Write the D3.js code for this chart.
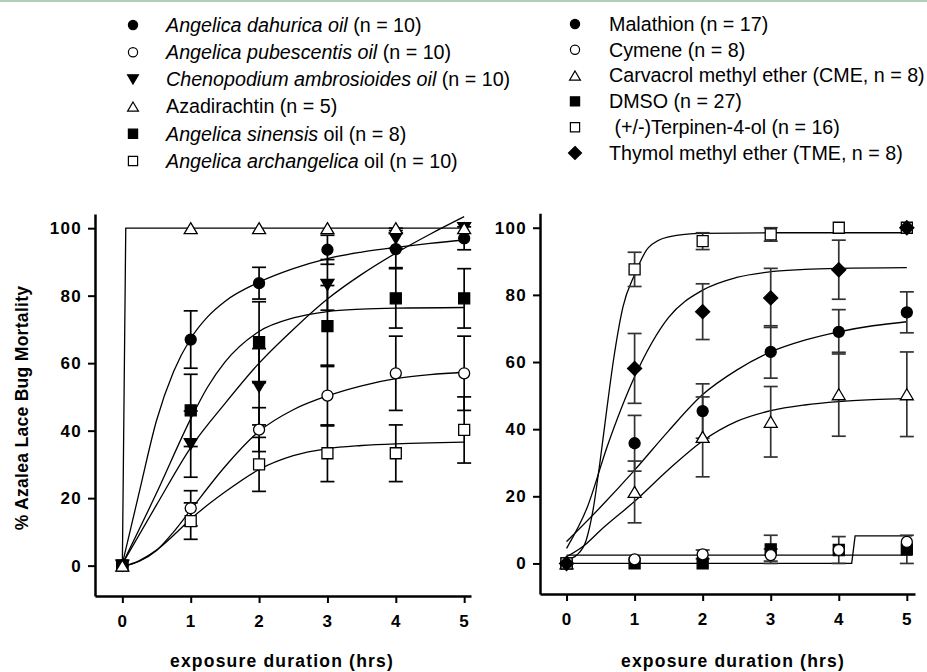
<!DOCTYPE html>
<html lang="en">
<head>
<meta charset="UTF-8">
<title>Azalea lace bug mortality</title>
<script src="https://d3js.org/d3.v7.min.js"></script>
<style>
    body { margin: 0; background: #fff; }
    svg { display: block; font-family: "Liberation Sans", Arial, sans-serif; }
    .axis path, .axis line { stroke: #000; }
    .axis path { stroke-width: 2.5px; }
    .axis line { stroke-width: 2px; }
    .axis text { font-size: 17px; font-weight: bold; letter-spacing: 1.3px; fill: #000; font-family: "Liberation Sans", Arial, sans-serif; }
    .legend text { font-size: 19.7px; fill: #000; white-space: pre; }
    .fit { fill: none; stroke: #000; stroke-width: 1.3px; }
    .title { font-size: 17.5px; font-weight: bold; letter-spacing: 1.2px; }
</style>
</head>
<body>
<script>
    const times = [0, 1, 2, 3, 4, 5];
    const yTicks = [0, 20, 40, 60, 80, 100];

    // left panel: plant oils
    const dahuricaMean = [0, 67, 83.7, 93.6, 93.8, 97];
    const dahuricaErr = [0, 8.5, 4.7, 4.3, 5.5, 3.4];
    const pubescentisMean = [0, 17, 40.3, 50.4, 57, 57];
    const pubescentisErr = [0, 5.2, 6.5, 9, 11, 11];
    const chenopodiumMean = [0, 36, 53, 83.2, 97, 100];
    const chenopodiumErr = [0, 9.8, 11.3, 7.5, 3, 0];
    const azadirachtinMean = [0, 100, 100, 100, 100, 100];
    const azadirachtinErr = [0, 0, 0, 0, 0, 0];
    const sinensisMean = [0, 46, 66.2, 71, 79.2, 79.2];
    const sinensisErr = [0, 10.7, 12, 12, 8.8, 8.8];
    const archangelicaMean = [0, 13.2, 30, 33.3, 33.3, 40.2];
    const archangelicaErr = [0, 5.4, 8, 8.4, 8.4, 9.8];

    // fitted curves, [hours, %]
    const fitDahurica = [[0, 0.5], [0.25, 22], [0.5, 43], [0.75, 57.5], [1, 67.3], [1.25, 73.8], [1.5, 78.3], [2, 84], [2.5, 88], [3, 91], [3.5, 92.9], [4, 94.3], [4.5, 95.5], [5, 96.5]];
    const fitPubescentis = [[0, -0.3], [0.25, 1.3], [0.5, 4.5], [0.75, 10], [1, 16.5], [1.5, 29.3], [2, 39.8], [2.5, 46.2], [3, 50.3], [3.5, 53.3], [4, 55.4], [4.5, 56.6], [5, 57.3]];
    const fitChenopodium = [[0, 0.5], [0.5, 18], [1, 35], [1.5, 48], [2, 60], [2.5, 70], [3, 79], [3.5, 86.3], [4, 92.6], [4.5, 98.2], [5, 103.4]];
    const fitAzadirachtin = [[0, 0], [0.05, 100], [5.05, 100]];
    const fitSinensis = [[0, 0.5], [0.5, 21.5], [1, 43.5], [1.25, 53], [1.5, 60.3], [2, 69.4], [2.5, 73.4], [3, 75.3], [3.5, 76], [4, 76.3], [5, 76.5]];
    const fitArchangelica = [[0, -0.3], [0.25, 1.5], [0.5, 4.6], [0.75, 9], [1, 13.8], [1.5, 21.8], [2, 28.5], [2.5, 32.6], [3, 34.7], [3.5, 35.6], [4, 36.1], [4.5, 36.4], [5, 36.6]];

    // right panel: compounds
    const malathionMean = [0, 35.8, 45.4, 63, 69, 74.8];
    const malathionErr = [0, 8.3, 8.1, 7.8, 6.6, 6.1];
    const cymeneMean = [0, 1.2, 2.7, 2.5, 4, 6.4];
    const cymeneErr = [0, 0, 1.3, 1.8, 0, 0];
    const cmeMean = [0, 21.3, 37.7, 42.2, 50.4, 50.4];
    const cmeErr = [0, 9.2, 11.9, 10.5, 12.5, 12.6];
    const dmsoMean = [0, 0, 0, 4.2, 4, 4.2];
    const dmsoErr = [0, 0, 0, 4.2, 4, 4.2];
    const terpinenMean = [0, 87.6, 96, 98, 100, 100];
    const terpinenErr = [0, 5.1, 2.5, 2, 0, 0];
    const tmeMean = [0, 58.1, 75, 79.1, 87.5, 100];
    const tmeErr = [0, 10.4, 8.3, 8.8, 8.8, 0];

    const fitMalathion = [[0, 6.5], [0.5, 16.8], [1, 27.8], [1.5, 39.5], [2, 50.3], [2.5, 57.6], [3, 63], [3.5, 66.5], [4, 69], [4.5, 70.8], [5, 72]];
    const fitCymene = [[0, 2.5], [5.08, 2.5]];
    const fitCme = [[0, 2], [0.25, 5.2], [0.5, 9.9], [1, 18.5], [1.5, 28], [2, 36.5], [2.5, 42.3], [3, 45.5], [3.5, 47.2], [4, 48.2], [4.5, 48.8], [5, 49.2]];
    const fitDmso = [[0, 0], [4.19, 0], [4.24, 8.2], [5.08, 8.2]];
    const fitTerpinen = [[0, 1], [0.15, 2.5], [0.29, 7], [0.39, 16], [0.49, 30], [0.59, 45.7], [0.69, 60.6], [0.83, 76.5], [1, 86], [1.2, 94], [1.5, 97.3], [2, 98.3], [3, 98.5], [5.05, 98.5]];
    const fitTme = [[0, 4.5], [0.3, 16.5], [0.6, 35], [1, 55.6], [1.5, 73.3], [2, 81.4], [2.5, 85.2], [3, 86.9], [3.5, 87.6], [4, 87.9], [5, 88.1]];

    const leftSeries = [
        { mean: archangelicaMean, err: archangelicaErr, fit: fitArchangelica, shape: 'square', filled: false },
        { mean: sinensisMean, err: sinensisErr, fit: fitSinensis, shape: 'square', filled: true },
        { mean: pubescentisMean, err: pubescentisErr, fit: fitPubescentis, shape: 'circle', filled: false },
        { mean: dahuricaMean, err: dahuricaErr, fit: fitDahurica, shape: 'circle', filled: true },
        { mean: chenopodiumMean, err: chenopodiumErr, fit: fitChenopodium, shape: 'triDown', filled: true },
        { mean: azadirachtinMean, err: azadirachtinErr, fit: fitAzadirachtin, shape: 'triUp', filled: false, linear: true }
    ];
    const rightSeries = [
        { mean: dmsoMean, err: dmsoErr, fit: fitDmso, shape: 'square', filled: true, linear: true },
        { mean: cymeneMean, err: cymeneErr, fit: fitCymene, shape: 'circle', filled: false, linear: true },
        { mean: cmeMean, err: cmeErr, fit: fitCme, shape: 'triUp', filled: false },
        { mean: malathionMean, err: malathionErr, fit: fitMalathion, shape: 'circle', filled: true },
        { mean: terpinenMean, err: terpinenErr, fit: fitTerpinen, shape: 'square', filled: false },
        { mean: tmeMean, err: tmeErr, fit: fitTme, shape: 'diamond', filled: true }
    ];

    const leftLegend = [
        { shape: 'circle', filled: true, parts: [['Angelica dahurica oil', true], [' (n = 10)', false]] },
        { shape: 'circle', filled: false, parts: [['Angelica pubescentis oil', true], [' (n = 10)', false]] },
        { shape: 'triDown', filled: true, parts: [['Chenopodium ambrosioides oil', true], [' (n = 10)', false]] },
        { shape: 'triUp', filled: false, parts: [['Azadirachtin (n = 5)', false]] },
        { shape: 'square', filled: true, parts: [['Angelica sinensis', true], [' oil (n = 8)', false]] },
        { shape: 'square', filled: false, parts: [['Angelica archangelica', true], [' oil (n = 10)', false]] }
    ];
    const rightLegend = [
        { shape: 'circle', filled: true, parts: [['Malathion (n = 17)', false]] },
        { shape: 'circle', filled: false, parts: [['Cymene (n = 8)', false]] },
        { shape: 'triUp', filled: false, parts: [['Carvacrol methyl ether (CME, n = 8)', false]] },
        { shape: 'square', filled: true, parts: [['DMSO (n = 27)', false]] },
        { shape: 'square', filled: false, parts: [[' (+/-)Terpinen-4-ol (n = 16)', false]] },
        { shape: 'diamond', filled: true, parts: [['Thymol methyl ether (TME, n = 8)', false]] }
    ];

    const width = 927, height = 672;
    const svg = d3.select('body').append('svg')
        .attr('width', width)
        .attr('height', height);

    // thin tinted rule along the top edge
    svg.append('rect').attr('x', 0).attr('y', 0).attr('width', width).attr('height', 2).attr('fill', '#b3cdbd');

    function markerPath(shape, s) {
        if (shape === 'circle') return d3.symbol(d3.symbolCircle, Math.PI * s * s)();
        if (shape === 'square') return `M${-s},${-s}H${s}V${s}H${-s}Z`;
        if (shape === 'triUp') return `M0,${-s}L${s * 1.18},${s}L${-s * 1.18},${s}Z`;
        if (shape === 'triDown') return `M0,${s}L${s * 1.18},${-s}L${-s * 1.18},${-s}Z`;
        if (shape === 'diamond') return `M0,${-s * 1.3}L${s * 1.3},0L0,${s * 1.3}L${-s * 1.3},0Z`;
    }

    function drawPanel(series, x, y, errColor) {
        const g = svg.append('g');

        g.append('g').attr('class', 'axis')
            .attr('transform', `translate(0,${y.range()[0]})`)
            .call(d3.axisBottom(x).tickValues(times).tickFormat(d3.format('d')).tickSize(7).tickSizeOuter(0).tickPadding(12));
        g.append('g').attr('class', 'axis')
            .attr('transform', `translate(${x.range()[0]},0)`)
            .call(d3.axisLeft(y).tickValues(yTicks).tickFormat(d3.format('d')).tickSize(7).tickSizeOuter(0).tickPadding(6));

        const line = d3.line().x(d => x(d[0])).y(d => y(d[1]));
        series.forEach(s => {
            g.append('path').attr('class', 'fit')
                .attr('d', line.curve(s.linear ? d3.curveLinear : d3.curveMonotoneX)(s.fit));
        });

        series.forEach(s => {
            const pts = times.map((t, i) => ({ t: t, m: s.mean[i], e: s.err[i] })).filter(p => p.e > 0);
            const eg = g.append('g').attr('stroke', errColor).attr('stroke-width', 1.7).attr('fill', 'none');
            pts.forEach(p => {
                eg.append('line').attr('x1', x(p.t)).attr('x2', x(p.t)).attr('y1', y(p.m - p.e)).attr('y2', y(p.m + p.e));
                [p.m - p.e, p.m + p.e].forEach(v => {
                    eg.append('line').attr('x1', x(p.t) - 7).attr('x2', x(p.t) + 7).attr('y1', y(v)).attr('y2', y(v));
                });
            });
        });

        series.forEach(s => {
            g.append('g').selectAll('path')
                .data(times.map((t, i) => [t, s.mean[i]]))
                .join('path')
                .attr('transform', d => `translate(${x(d[0])},${y(d[1])})`)
                .attr('d', markerPath(s.shape, s.shape === 'diamond' ? 5.4 : 5.5))
                .attr('fill', s.filled ? '#000' : '#fff')
                .attr('stroke', '#000')
                .attr('stroke-width', 1.3);
        });
    }

    const xLeft = d3.scaleLinear().domain([-0.4, 5.1]).range([95, 471]);
    const yLeft = d3.scaleLinear().domain([-9, 104.2]).range([596, 214]);
    const xRight = d3.scaleLinear().domain([-0.39, 5.12]).range([540, 915]);
    const yRight = d3.scaleLinear().domain([-9.1, 104.3]).range([594, 213.3]);

    drawPanel(leftSeries, xLeft, yLeft, '#000');
    drawPanel(rightSeries, xRight, yRight, '#333');

    svg.append('text').attr('class', 'title')
        .attr('x', 282).attr('y', 667).attr('text-anchor', 'middle')
        .text('exposure duration (hrs)');
    svg.append('text').attr('class', 'title')
        .attr('x', 733).attr('y', 667).attr('text-anchor', 'middle')
        .text('exposure duration (hrs)');
    svg.append('text').attr('class', 'title')
        .attr('transform', 'translate(28,408) rotate(-90)')
        .attr('text-anchor', 'middle')
        .style('letter-spacing', '0.3px')
        .text('% Azalea Lace Bug Mortality');

    function drawLegend(items, mx, tx, y0, step) {
        const lg = svg.append('g').attr('class', 'legend');
        items.forEach((it, i) => {
            const cy = y0 + i * step;
            lg.append('path')
                .attr('transform', `translate(${mx},${cy})`)
                .attr('d', markerPath(it.shape, it.shape === 'diamond' ? 5 : 4.6))
                .attr('fill', it.filled ? '#000' : '#fff')
                .attr('stroke', '#000').attr('stroke-width', 1.2);
            const t = lg.append('text').attr('x', tx).attr('y', cy).attr('dy', '0.35em');
            it.parts.forEach(p => {
                t.append('tspan').style('font-style', p[1] ? 'italic' : 'normal').text(p[0]);
            });
        });
    }

    drawLegend(leftLegend, 133, 166, 25, 27.2);
    drawLegend(rightLegend, 575, 609, 24, 25.8);
</script>
</body>
</html>
